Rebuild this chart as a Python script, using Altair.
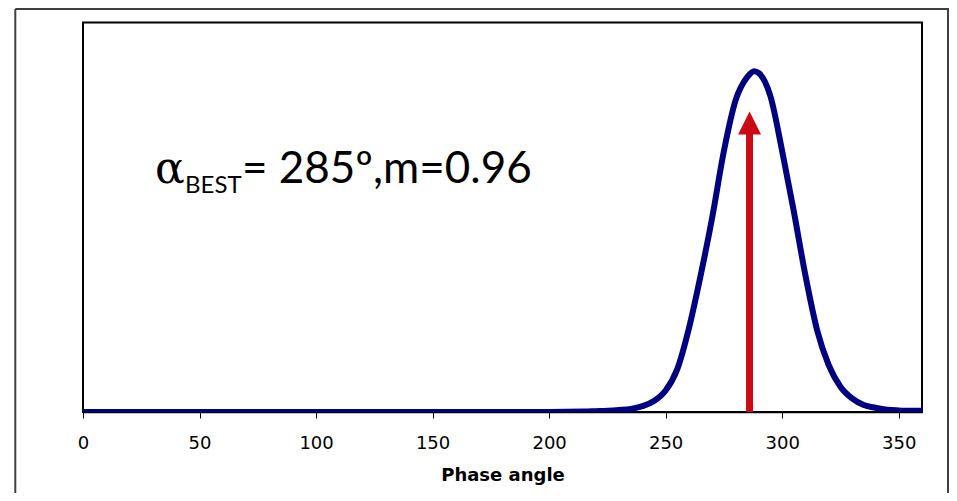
import altair as alt
import pandas as pd

# Curve (phase angle in degrees, relative amplitude 0..1)
angles = [0, 100, 200, 215, 220, 225, 230, 235, 240, 245, 250, 255, 260, 265,
          270, 275, 280, 285, 288, 290, 295, 300, 305, 310, 315, 320, 325, 330,
          335, 340, 345, 350, 355, 360]
density = [0, 0, 0, 0.001, 0.002, 0.003, 0.005, 0.008, 0.015, 0.028, 0.055, 0.11,
           0.215, 0.35, 0.50, 0.67, 0.80, 0.86, 0.875, 0.87, 0.81, 0.67, 0.515,
           0.35, 0.21, 0.12, 0.065, 0.035, 0.018, 0.011, 0.006, 0.004, 0.003, 0.003]

tick_values = [0, 50, 100, 150, 200, 250, 300, 350]

best_angle = [286]
arrow_base = [0.715]
arrow_head = [0.742]

label_alpha = "α"
label_sub = "BEST"
label_rest = "= 285º,m=0.96"

NAVY = "#000080"
RED = "#CC0A14"

curve_df = pd.DataFrame({"angle": angles, "density": density})
arrow_df = pd.DataFrame({"angle": best_angle, "y0": [0], "y1": arrow_base, "head": arrow_head})
dummy = pd.DataFrame({"k": [0]})

x_scale = alt.Scale(domain=[0, 360], nice=False, zero=False)
y_scale = alt.Scale(domain=[0, 1], nice=False)

x_axis = alt.Axis(
    title="Phase angle", values=tick_values, tickSize=6, tickColor="black",
    tickWidth=1, domainColor="black", domainWidth=1.5, grid=False,
    labelFont="DejaVu Sans", labelFontSize=18, labelColor="black",
    labelBaseline="alphabetic", labelPadding=30, labelFlush=False,
    titleFont="DejaVu Sans", titleFontSize=18, titleFontWeight="bold",
    titleColor="black", titleY=68, titleBaseline="alphabetic",
)

curve = alt.Chart(curve_df).mark_line(
    color=NAVY, strokeWidth=6, interpolate="monotone", clip=True
).encode(
    x=alt.X("angle:Q", scale=x_scale, axis=x_axis),
    y=alt.Y("density:Q", scale=y_scale, axis=None),
)

shaft = alt.Chart(arrow_df).mark_rule(color=RED, strokeWidth=7, strokeCap="butt").encode(
    x=alt.X("angle:Q", scale=x_scale),
    y=alt.Y("y0:Q", scale=y_scale),
    y2="y1:Q",
)

head = alt.Chart(arrow_df).mark_point(
    shape="M0,-1L1,1L-1,1Z", size=529, filled=True, color=RED, opacity=1, strokeWidth=0
).encode(
    x=alt.X("angle:Q", scale=x_scale),
    y=alt.Y("head:Q", scale=y_scale),
)

t_alpha = alt.Chart(dummy).mark_text(
    align="left", baseline="alphabetic", font="DejaVu Serif", fontSize=44, color="black"
).encode(x=alt.value(72), y=alt.value(160.5), text=alt.value(label_alpha))

t_sub = alt.Chart(dummy).mark_text(
    align="left", baseline="alphabetic", font="Lato", fontSize=24, color="black"
).encode(x=alt.value(102), y=alt.value(170), text=alt.value(label_sub))

t_rest = alt.Chart(dummy).mark_text(
    align="left", baseline="alphabetic", font="Lato", fontSize=44, color="black"
).encode(x=alt.value(159), y=alt.value(160.5), text=alt.value(label_rest))

FRAME = "#404040"
frame_left = alt.Chart(dummy).mark_rule(color=FRAME, strokeWidth=2).encode(
    x=alt.value(-67.7), y=alt.value(-13.5), y2=alt.value(490))
frame_top = alt.Chart(dummy).mark_rule(color=FRAME, strokeWidth=2).encode(
    x=alt.value(-67.7), x2=alt.value(866), y=alt.value(-13.5))
frame_right = alt.Chart(dummy).mark_rule(color=FRAME, strokeWidth=2).encode(
    x=alt.value(865), y=alt.value(-13.5), y2=alt.value(490))

chart = alt.layer(
    frame_left, frame_top, frame_right, curve, shaft, head, t_alpha, t_sub, t_rest
).properties(
    width=839, height=389.5,
    autosize=alt.AutoSizeParams(type="none"),
    padding={"left": 75, "top": 14.5, "right": 27, "bottom": 81},
    background="white",
).configure_view(stroke="black", strokeWidth=2)

chart.save("out.html", embed_options={"renderer": "svg", "actions": False})
